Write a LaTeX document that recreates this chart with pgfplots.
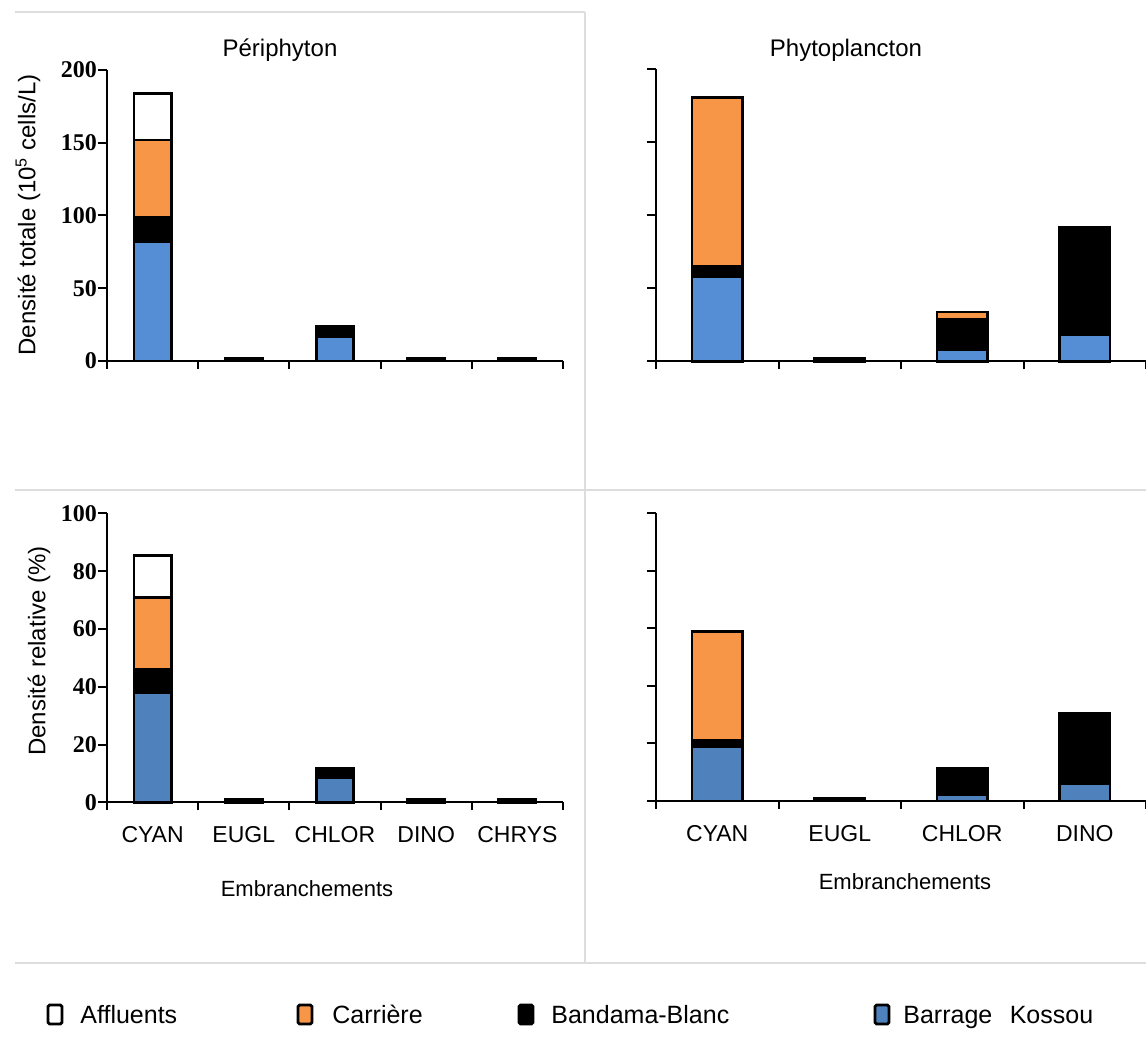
\documentclass[border=0pt]{standalone}
\usepackage{fontspec}
\setmainfont{Liberation Sans}
\newfontfamily\tickfont{Liberation Serif}
\usepackage{pgfplots}
\pgfplotsset{compat=1.18}
\definecolor{bluetop}{HTML}{558ED5}
\definecolor{bluebot}{HTML}{4F81BD}
\definecolor{carr}{HTML}{F79646}
\definecolor{framegray}{HTML}{DDDDDD}

\pgfplotsset{
  panel/.style={
    scale only axis, anchor=south west,
    axis x line*=bottom, axis y line*=left,
    axis line style={line width=1pt, black},
    ybar stacked, bar width=0.41,
    xmin=-0.5, ymin=0,
    tick align=outside,
    major tick length=4.5pt, minor tick length=4pt,
    every tick/.append style={line width=1pt, black},
    every major x tick/.append style={draw=none},
    every minor x tick/.append style={draw=black, line width=1pt},
    /pgf/number format/assume math mode=true,
    yticklabel style={font=\tickfont\bfseries\fontsize{12}{13}\selectfont, xshift=3pt},
    xticklabel style={font=\fontsize{11.5}{13}\selectfont, yshift=-4pt},
    every axis plot/.append style={draw=black, line width=1.3pt},
    clip=false,
  },
  five/.style={xmax=4.5, xtick={0,1,2,3,4}, minor xtick={-0.5,0.5,1.5,2.5,3.5,4.5}},
  four/.style={xmax=3.5, xtick={0,1,2,3}, minor xtick={-0.5,0.5,1.5,2.5,3.5}},
}

\begin{document}
\begin{tikzpicture}
\path[use as bounding box] (0pt,0pt) rectangle (573pt,526pt);

% panel frames
\draw[framegray, line width=1pt] (7.5pt,520pt) -- (292.5pt,520pt);
\draw[framegray, line width=0.8pt] (292.5pt,520pt) -- (292.5pt,44.5pt);
\draw[framegray, line width=0.8pt] (7.5pt,281pt) -- (573pt,281pt);
\draw[framegray, line width=0.8pt] (7.5pt,44.5pt) -- (573pt,44.5pt);

% ---------- top left: Periphyton, densite totale
\begin{axis}[panel, five, at={(53.5pt,345.5pt)}, width=228pt, height=145.5pt,
  ymax=200, ytick={0,50,100,150,200}, xticklabels={}]
\addplot[fill=bluetop] coordinates {(0,82) (1,0) (2,17) (3,0) (4,0)};
\addplot[fill=black] coordinates {(0,17) (1,2) (2,7) (3,2) (4,2)};
\addplot[fill=carr] coordinates {(0,53) (1,0) (2,0) (3,0) (4,0)};
\addplot[fill=white] coordinates {(0,32) (1,0) (2,0) (3,0) (4,0)};
\end{axis}

% ---------- top right: Phytoplancton, densite totale
\begin{axis}[panel, four, at={(328pt,345.25pt)}, width=245pt, height=146pt,
  ymax=200, ytick={0,50,100,150,200}, yticklabels={}, xticklabels={}]
\addplot[fill=bluetop] coordinates {(0,58) (1,0) (2,8) (3,18)};
\addplot[fill=black] coordinates {(0,7) (1,2) (2,21) (3,74)};
\addplot[fill=carr] coordinates {(0,116) (1,0) (2,5) (3,0)};
\end{axis}

% ---------- bottom left: densite relative
\begin{axis}[panel, five, at={(53.5pt,124.75pt)}, width=228pt, height=144.5pt,
  ymax=100, ytick={0,20,40,60,80,100},
  xticklabels={CYAN,EUGL,CHLOR,DINO,CHRYS}]
\addplot[fill=bluebot] coordinates {(0,38) (1,0) (2,8.5) (3,0) (4,0)};
\addplot[fill=black] coordinates {(0,8) (1,1) (2,3.5) (3,1) (4,1)};
\addplot[fill=carr] coordinates {(0,25) (1,0) (2,0) (3,0) (4,0)};
\addplot[fill=white] coordinates {(0,14.5) (1,0) (2,0) (3,0) (4,0)};
\end{axis}

% ---------- bottom right: densite relative
\begin{axis}[panel, four, at={(328pt,125.5pt)}, width=245pt, height=143.75pt,
  ymax=100, ytick={0,20,40,60,80,100}, yticklabels={},
  xticklabels={CYAN,EUGL,CHLOR,DINO}]
\addplot[fill=bluebot] coordinates {(0,19) (1,0) (2,2.3) (3,6)};
\addplot[fill=black] coordinates {(0,2) (1,1) (2,9) (3,24.5)};
\addplot[fill=carr] coordinates {(0,38) (1,0) (2,0) (3,0)};
\end{axis}

% titles and labels
\node[anchor=base, font=\fontsize{12}{14}\selectfont] at (140pt,497.5pt) {Périphyton};
\node[anchor=base, font=\fontsize{12}{14}\selectfont] at (423pt,497.5pt) {Phytoplancton};
\node[rotate=90, font=\fontsize{12}{14}\selectfont] at (14pt,418.5pt) {Densité totale (10\textsuperscript{5} cells/L)};
\node[rotate=90, font=\fontsize{12}{14}\selectfont] at (19.5pt,200.5pt) {Densité relative (\%)};
\node[anchor=base, font=\fontsize{11}{13}\selectfont] at (153.5pt,77.5pt) {Embranchements};
\node[anchor=base, font=\fontsize{11}{13}\selectfont] at (452.5pt,81pt) {Embranchements};

% legend
\begin{scope}[line width=1.4pt, rounded corners=0.8pt]
\draw[fill=white] (24pt,14pt) rectangle (31pt,23.5pt);
\draw[fill=carr] (149pt,14pt) rectangle (156pt,23.5pt);
\draw[fill=black] (259.5pt,14pt) rectangle (266.5pt,23.5pt);
\draw[fill=bluebot] (437.5pt,14pt) rectangle (444.5pt,23.5pt);
\end{scope}
\begin{scope}[every node/.style={anchor=base west, inner sep=0pt, font=\fontsize{12.5}{14}\selectfont}]
\node at (40pt,14pt) {Affluents};
\node at (166pt,14pt) {Carrière};
\node at (275.5pt,14pt) {Bandama-Blanc};
\node at (451.5pt,14pt) {Barrage\hspace{0.7em}Kossou};
\end{scope}
\end{tikzpicture}
\end{document}
